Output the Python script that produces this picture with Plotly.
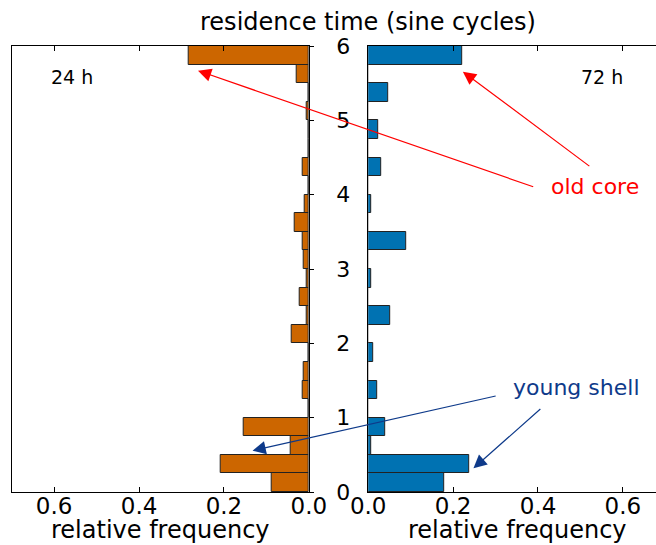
import plotly.graph_objects as go

# residence-time bins (sine cycles), width 0.25 from 0 to 6
bin_width = 0.25
bin_starts = [i * bin_width for i in range(24)]

# relative frequency per bin, lowest bin first
freq_24h = [0.088, 0.207, 0.043, 0.154, 0.0, 0.014, 0.012, 0.0,
            0.040, 0.006, 0.022, 0.0055, 0.011, 0.014, 0.033, 0.0085,
            0.0, 0.015, 0.0, 0.0, 0.004, 0.0, 0.028, 0.282]
freq_72h = [0.179, 0.238, 0.008, 0.041, 0.0, 0.022, 0.0, 0.011,
            0.0, 0.052, 0.0, 0.007, 0.0, 0.089, 0.0, 0.0063,
            0.0, 0.030, 0.0, 0.024, 0.0, 0.047, 0.0, 0.222]

x_ticks = [0.0, 0.2, 0.4, 0.6]
y_ticks = [0, 1, 2, 3, 4, 5, 6]

ORANGE = "#cc6600"
BLUE = "#0072b2"
EDGE = "#222222"
RED = "#ff0000"
NAVY = "#0e3a8a"
FONT = "DejaVu Sans"

W, H = 656, 545
centers = [s + bin_width / 2 for s in bin_starts]

fig = go.Figure()
fig.add_trace(go.Bar(
    x=freq_24h, y=centers, width=bin_width, orientation="h",
    xaxis="x", yaxis="y",
    marker=dict(color=ORANGE, line=dict(color=EDGE, width=1)),
    showlegend=False,
))
fig.add_trace(go.Bar(
    x=freq_72h, y=centers, width=bin_width, orientation="h",
    xaxis="x2", yaxis="y2",
    marker=dict(color=BLUE, line=dict(color=EDGE, width=1)),
    showlegend=False,
))

xcommon = dict(
    tickvals=x_ticks, ticktext=[f"{v:.1f}" for v in x_ticks],
    ticks="inside", ticklen=5, tickcolor="black",
    showline=True, linecolor="black", linewidth=1, mirror="ticks",
    showgrid=False, zeroline=False, automargin=False,
    ticklabelstandoff=-7,
    tickfont=dict(family=FONT, size=23, color="black"),
)

left_dom = [11.7 / W, 308.8 / W]
right_dom = [368.2 / W, 1.0]
y_dom = [(H - 492) / H, (H - 46) / H]

fig.update_layout(
    width=W, height=H,
    margin=dict(l=0, r=0, t=0, b=0, autoexpand=False),
    paper_bgcolor="white", plot_bgcolor="white",
    bargap=0,
    font=dict(family=FONT, color="black"),
    title=dict(text="residence time (sine cycles)", x=368 / W, y=(H - 22) / H,
               xanchor="center", yanchor="middle",
               font=dict(family=FONT, size=24, color="black")),
    xaxis=dict(domain=left_dom, range=[0.7, 0.0], anchor="y", **xcommon),
    xaxis2=dict(domain=right_dom, range=[0.0, 0.678], anchor="y2", **xcommon),
    yaxis=dict(domain=y_dom, range=[0, 6], anchor="x", side="right",
               tickvals=y_ticks, ticks="outside", ticklen=4, tickcolor="black",
               showline=True, linecolor="black", linewidth=1, mirror=True,
               showgrid=False, zeroline=False, ticklabelstandoff=18,
               automargin=False,
               tickfont=dict(family=FONT, size=22, color="black")),
    yaxis2=dict(domain=y_dom, range=[0, 6], anchor="x2", matches="y",
                showticklabels=False, ticks="",
                showline=True, linecolor="black", linewidth=1, mirror=True,
                showgrid=False, zeroline=False, automargin=False),
)


def label(text, px, py, size, color):
    fig.add_annotation(text=text, xref="paper", yref="paper",
                       x=px / W, y=(H - py) / H, showarrow=False,
                       xanchor="center", yanchor="middle",
                       font=dict(family=FONT, size=size, color=color))


# axis titles below each panel
label("relative frequency", 160, 530, 24, "black")
label("relative frequency", 517, 530, 24, "black")

# panel labels
label("24 h", 72, 77, 19, "black")
label("72 h", 602, 77, 19, "black")

# callout labels
label("old core", 595, 187, 22, RED)
label("young shell", 576.5, 387, 22, NAVY)

# arrows: head in data coordinates, tail as pixel offset
arrows = [
    ("x", "y", 0.261, 5.668, 336.7, 116.6, RED),
    ("x2", "y2", 0.223, 5.655, 128.0, 95.6, RED),
    ("x", "y", 0.1325, 0.556, 244.6, -55.0, NAVY),
    ("x2", "y2", 0.248, 0.319, 68.4, -60.6, NAVY),
]
for xr, yr, hx, hy, ax, ay, col in arrows:
    fig.add_annotation(text="", xref=xr, yref=yr, x=hx, y=hy,
                       ax=ax, ay=ay, axref="pixel", ayref="pixel",
                       showarrow=True, arrowhead=2, arrowsize=2.2,
                       arrowwidth=1.2, arrowcolor=col, standoff=0)

fig.write_html("out.html")
